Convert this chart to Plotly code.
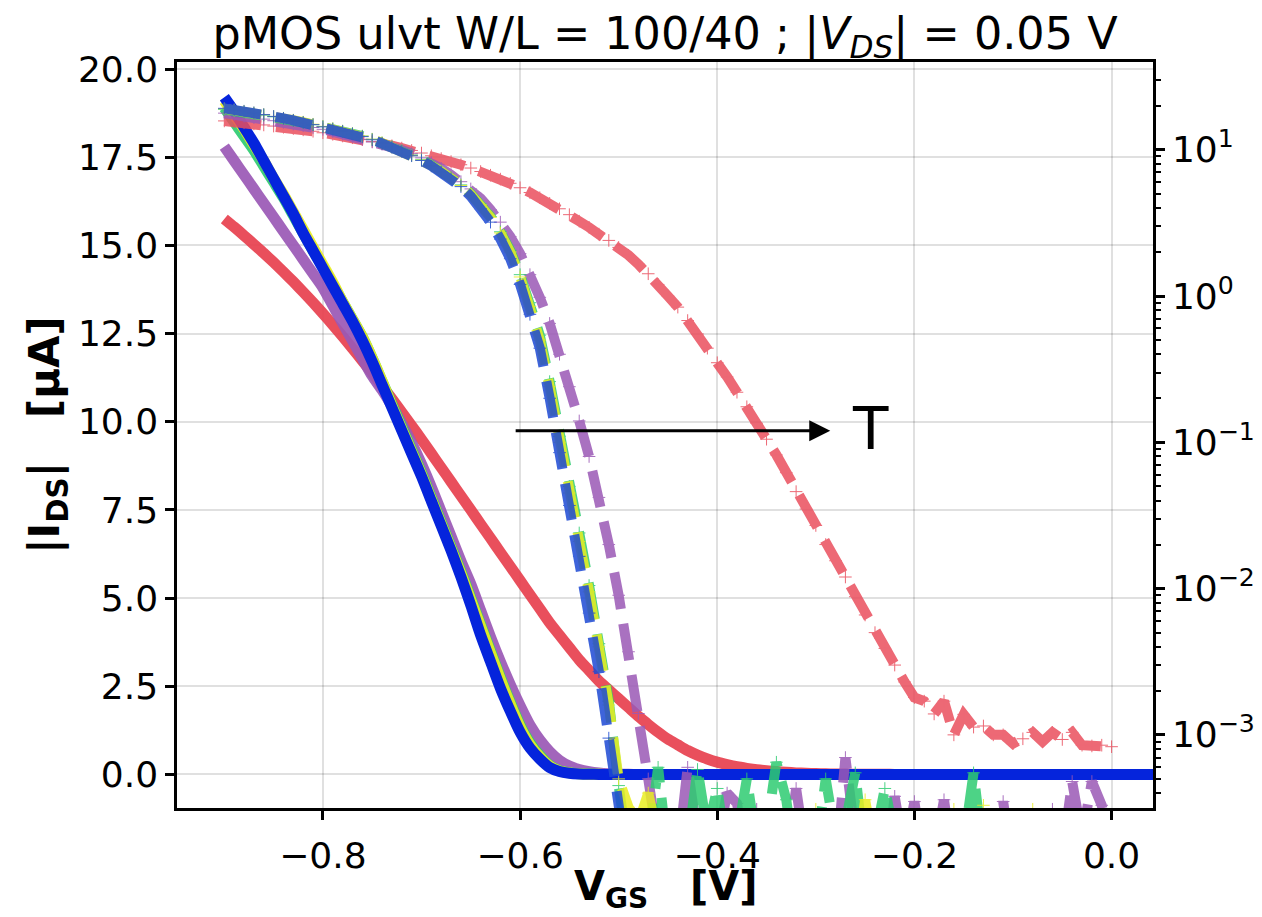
import plotly.graph_objects as go

# ---------------- data ----------------
vgs = [-0.90, -0.89, -0.88, -0.87, -0.86, -0.85, -0.84, -0.83, -0.82, -0.81,
       -0.80, -0.79, -0.78, -0.77, -0.76, -0.75, -0.74, -0.73, -0.72, -0.71,
       -0.70, -0.69, -0.68, -0.67, -0.66, -0.65, -0.64, -0.63, -0.62, -0.61,
       -0.60, -0.59, -0.58, -0.57, -0.56, -0.55, -0.54, -0.53, -0.52, -0.51,
       -0.50, -0.49, -0.48, -0.47, -0.46, -0.45, -0.44, -0.43, -0.42, -0.41,
       -0.40, -0.39, -0.38, -0.37, -0.36, -0.35, -0.34, -0.33, -0.32, -0.31,
       -0.30, -0.29, -0.28, -0.27, -0.26, -0.25, -0.24, -0.23, -0.22, -0.21,
       -0.20, -0.19, -0.18, -0.17, -0.16, -0.15, -0.14, -0.13, -0.12, -0.11,
       -0.10, -0.09, -0.08, -0.07, -0.06, -0.05, -0.04, -0.03, -0.02, -0.01,
       0.00]

# blue sweep extends a bit past 0 V
vgs_blue = vgs + [0.01, 0.02, 0.03, 0.04, 0.05]

ids_red = [15.75, 15.52, 15.28, 15.03, 14.78, 14.52, 14.25, 13.97, 13.68, 13.38,
           13.07, 12.75, 12.42, 12.08, 11.73, 11.38, 11.02, 10.65, 10.27, 9.89,
           9.5, 9.1, 8.7, 8.3, 7.9, 7.5, 7.1, 6.7, 6.3, 5.9,
           5.5, 5.1, 4.7, 4.3, 3.95, 3.6, 3.25, 2.95, 2.65, 2.4,
           2.15, 1.9, 1.65, 1.42, 1.2, 1.0, 0.84, 0.68, 0.55, 0.44,
           0.35, 0.28, 0.22, 0.175, 0.135, 0.105, 0.082, 0.062, 0.046, 0.035,
           0.027, 0.02, 0.0155, 0.012, 0.0088, 0.0066, 0.005, 0.0039, 0.003, 0.0023,
           0.0018, 0.0017, 0.00139, 0.0017, 0.001, 0.00138, 0.00113, 0.00115, 0.001, 0.001,
           0.00087, 0.00094, 0.00104, 0.0009, 0.00104, 0.00093, 0.00104, 0.00085, 0.00084, 0.00085,
           0.00083]

ids_purple = [17.8, 17.4, 17.0, 16.6, 16.2, 15.8, 15.4, 15.0, 14.6, 14.2,
              13.8, 13.3, 12.8, 12.3, 11.8, 11.3, 10.9, 10.45, 9.95, 9.4,
              8.8, 8.15, 7.45, 6.75, 6.05, 5.4, 4.65, 3.9, 3.2, 2.55,
              1.95, 1.4, 0.98, 0.65, 0.4, 0.24, 0.14, 0.08, 0.042, 0.02,
              0.009, 0.0037, 0.0014, 0.0005, 0.00018, 0.00022, 0.00015, 0.0006, 0.0002, 0.00012,
              0.00018, 0.0004, 0.00034, 0.00015, 0.00031, 0.00012, 0.0002, 0.00014, 0.00043, 0.00015,
              0.0001, 0.00018, 0.00012, 0.0007, 0.0002, 0.00012, 0.00016, 0.0001, 0.00038, 0.00015,
              0.00035, 0.00012, 0.00015, 0.00036, 0.00012, 0.0001, 0.00014, 0.00012, 0.00015, 0.00035,
              0.00012, 0.00015, 0.0001, 0.00016, 0.00031, 0.00015, 0.00048, 0.0002, 0.00048, 0.00033,
              0.00015]

ids_green = [18.9, 18.5, 18.1, 17.7, 17.25, 16.8, 16.35, 15.85, 15.35, 14.85,
             14.4, 13.9, 13.4, 12.9, 12.4, 11.8, 11.15, 10.5, 9.85, 9.2,
             8.55, 7.85, 7.15, 6.45, 5.75, 5.0, 4.25, 3.5, 2.75, 2.05,
             1.4, 0.9, 0.54, 0.26, 0.11, 0.05, 0.024, 0.0105, 0.0042, 0.0017,
             0.00045, 0.00015, 0.0002, 0.00018, 0.0006, 0.00015, 0.0001, 0.00018, 0.00058, 0.00022,
             0.00043, 0.00015, 0.0002, 0.0005, 0.00018, 0.00022, 0.00065, 0.00036, 0.00012, 0.0002,
             0.00015, 0.0005, 0.0002, 0.00025, 0.00055, 0.00014, 0.0002, 0.00043, 0.0002, 0.00015,
             0.0001, 0.00012, 0.0002, 0.00015, 0.0001, 0.00018, 0.00055, 0.00015, 0.0001, 0.00014,
             0.0001, 0.00012, 0.00015, 0.0001, 0.00012, 0.0001, 0.00013, 0.0001, 0.00012, 0.0001,
             0.00011]

ids_yellow = [19.1, 18.7, 18.3, 17.85, 17.4, 16.9, 16.45, 15.95, 15.45, 14.95,
              14.45, 13.95, 13.4, 12.9, 12.4, 11.8, 11.15, 10.45, 9.8, 9.15,
              8.5, 7.8, 7.1, 6.4, 5.7, 4.95, 4.2, 3.45, 2.7, 2.0,
              1.35, 0.85, 0.5, 0.24, 0.1, 0.045, 0.021, 0.0095, 0.004, 0.0016,
              0.0005, 0.00032, 0.00025, 0.0004, 0.0002, 0.00012, 0.00015, 0.0001, 0.00014, 0.00012,
              0.0001, 0.00015, 0.00012, 0.0001, 0.00014, 0.00011, 0.0001, 0.00013, 0.00012, 0.00015,
              0.00031, 0.00012, 0.0001, 0.00014, 0.00012, 0.00036, 0.00015, 0.0001, 0.00012, 0.0001,
              0.00014, 0.00012, 0.0001, 0.00015, 0.00031, 0.00012, 0.0001, 0.00033, 0.00012, 0.0001,
              0.00013, 0.00015, 0.00031, 0.00012, 0.0001, 0.00014, 0.00012, 0.0001, 0.00013, 0.00011,
              0.0001]

ids_blue = [19.2, 18.8, 18.35, 17.9, 17.4, 16.9, 16.4, 15.9, 15.35, 14.85,
            14.35, 13.85, 13.35, 12.85, 12.3, 11.7, 11.05, 10.4, 9.75, 9.1,
            8.45, 7.75, 7.05, 6.35, 5.6, 4.8, 3.95, 3.2, 2.45, 1.8,
            1.2, 0.75, 0.44, 0.2, 0.085, 0.037, 0.0166, 0.0068, 0.0027, 0.00095,
            0.0003, 0.00006, 0.00004, 0.00007, 0.00005, 0.00004, 0.00006, 0.00005, 0.00004, 0.00006,
            0.00005, 0.00004, 0.00006, 0.00005, 0.00004, 0.00006, 0.00005, 0.00004, 0.00006, 0.00005,
            0.00004, 0.00006, 0.00005, 0.00004, 0.00006, 0.00005, 0.00004, 0.00006, 0.00005, 0.00004,
            0.00006, 0.00005, 0.00004, 0.00006, 0.00005, 0.00004, 0.00006, 0.00005, 0.00004, 0.00006,
            0.00005, 0.00004, 0.00006, 0.00005, 0.00004, 0.00006, 0.00005, 0.00004, 0.00006, 0.00005,
            0.00004, 0.00005, 0.00005, 0.00005, 0.00005, 0.00005]

y_ticks = [0.0, 2.5, 5.0, 7.5, 10.0, 12.5, 15.0, 17.5, 20.0]
x_ticks = [-0.8, -0.6, -0.4, -0.2, 0.0]
log_ticks = [1e-3, 1e-2, 1e-1, 1e0, 1e1]
log_labels = ["10<sup>\u22123</sup>", "10<sup>\u22122</sup>", "10<sup>\u22121</sup>",
              "10<sup>0</sup>", "10<sup>1</sup>"]

# ---------------- styles ----------------
FONT = "DejaVu Sans"
series = [
    ("red", vgs, ids_red, "#e8414f", "#ea4f5e"),
    ("purple", vgs, ids_purple, "#9b59b6", "#9b59b6"),
    ("green", vgs, ids_green, "#2ecc71", "#2ecc71"),
    ("yellow", vgs, ids_yellow, "#eaee22", "#eaee22"),
    ("blue", vgs_blue, ids_blue, "#0524dc", "#1d49d4"),
]

fig = go.Figure()

# linear-scale (solid) curves on the left axis
for name, xs, ys, c_solid, c_dash in series:
    fig.add_trace(go.Scatter(
        x=xs, y=ys, mode="lines", name=name + " lin",
        line=dict(color=c_solid, width=11, shape="spline", smoothing=0.7),
        opacity=1.0 if name == "blue" else 0.92,
        yaxis="y", showlegend=False, hoverinfo="skip"))

# log-scale (dashed + markers) curves on the right axis
for name, xs, ys, c_solid, c_dash in series:
    fig.add_trace(go.Scatter(
        x=xs, y=ys, mode="lines+markers", name=name + " log",
        line=dict(color=c_dash, width=10, dash="37px,15px"),
        marker=dict(symbol="cross-thin", size=9, color=c_dash,
                    line=dict(width=1, color=c_dash)),
        opacity=0.85,
        yaxis="y2", showlegend=False, hoverinfo="skip"))

minor_vals = [m * 10.0 ** k for k in range(-4, 2) for m in range(2, 10)]

axis_common = dict(
    showline=True, linewidth=2.5, linecolor="black",
    ticks="outside", ticklen=9, tickwidth=2.5, tickcolor="black",
    tickfont=dict(family=FONT, size=36, color="black"),
    zeroline=False, automargin=False,
)

fig.update_layout(
    width=1262, height=917,
    margin=dict(l=177, r=109, t=62, b=109, autoexpand=False),
    paper_bgcolor="white", plot_bgcolor="white",
    title=dict(
        text="pMOS ulvt W/L = 100/40 ; |<i>V</i><sub><i>DS</i></sub>| = 0.05 V",
        x=0.5, xanchor="center", xref="paper",
        y=1 - 33 / 917, yanchor="middle", yref="container",
        font=dict(family=FONT, size=44.5, color="black")),
    xaxis=dict(
        range=[-0.948, 0.042], tickmode="array", tickvals=x_ticks, tickformat=".1f",
        mirror=True, showgrid=True, gridcolor="rgba(0,0,0,0.12)", gridwidth=1.5,
        ticklabelstandoff=5,
        **axis_common),
    yaxis=dict(
        range=[-0.95, 20.2], tickmode="array", tickvals=y_ticks, tickformat=".1f",
        mirror=True, showgrid=True, gridcolor="rgba(0,0,0,0.12)", gridwidth=1.5,
        title=dict(text="<b>|I<sub>DS</sub>|\u00a0\u00a0\u00a0[\u00b5A]</b>",
                   font=dict(family=FONT, size=42, color="black"), standoff=6),
        **axis_common),
    yaxis2=dict(
        type="log", range=[-3.50, 1.60], overlaying="y", side="right",
        tickmode="array", tickvals=log_ticks, ticktext=log_labels,
        showgrid=False,
        minor=dict(tickmode="array", tickvals=minor_vals, ticks="outside",
                   ticklen=5, tickwidth=1.5, tickcolor="black", showgrid=False),
        **axis_common),
)

# x-axis title (placed as paper annotation just below the tick labels)
fig.add_annotation(
    x=0.5, y=-0.108, xref="paper", yref="paper", xanchor="center", yanchor="middle",
    text="<b>V<sub>GS</sub>\u00a0\u00a0\u00a0[V]</b>", showarrow=False,
    font=dict(family=FONT, size=40, color="black"))

# temperature arrow
fig.add_annotation(
    x=-0.2854, y=9.745, ax=-0.606, ay=9.745,
    xref="x", yref="y", axref="x", ayref="y",
    text="", showarrow=True, arrowhead=2, arrowsize=1.4, arrowwidth=3,
    arrowcolor="black", standoff=0, startstandoff=0)
fig.add_annotation(
    x=-0.245, y=9.8, xref="x", yref="y", text="T", showarrow=False,
    font=dict(family=FONT, size=58, color="black"))

fig.write_html("out.html")
